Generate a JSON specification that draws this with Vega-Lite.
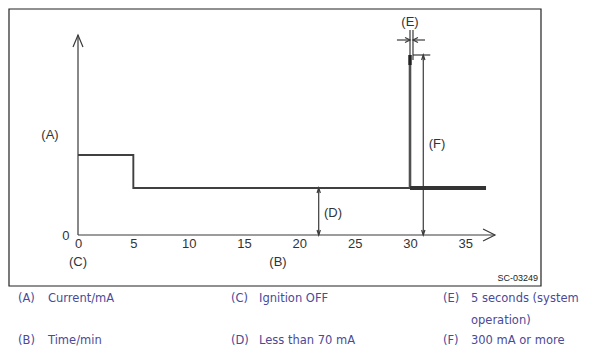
{
  "$schema": "https://vega.github.io/schema/vega-lite/v6.json",
  "width": 590,
  "height": 356,
  "autosize": "none",
  "padding": 0,
  "background": "white",
  "view": {"stroke": null},
  "config": {"font": "Liberation Sans"},
  "datasets": {
    "lines": [
      {"id": "yax", "part": "thin", "o": 1, "x": 0, "y": 0},
      {"id": "yax", "part": "thin", "o": 2, "x": 0, "y": 200},
      {"id": "yarr", "part": "thin", "o": 1, "x": -0.45, "y": 188},
      {"id": "yarr", "part": "thin", "o": 2, "x": 0, "y": 200},
      {"id": "yarr", "part": "thin", "o": 3, "x": 0.45, "y": 188},
      {"id": "xax", "part": "thin", "o": 1, "x": 0, "y": 0},
      {"id": "xax", "part": "thin", "o": 2, "x": 37.68, "y": 0},
      {"id": "xarr", "part": "thin", "o": 1, "x": 36.6, "y": 6},
      {"id": "xarr", "part": "thin", "o": 2, "x": 37.68, "y": 0},
      {"id": "xarr", "part": "thin", "o": 3, "x": 36.6, "y": -6},
      {"id": "d", "part": "thin", "o": 1, "x": 21.75, "y": 0},
      {"id": "d", "part": "thin", "o": 2, "x": 21.75, "y": 47},
      {"id": "d1", "part": "thin", "o": 1, "x": 21.6, "y": 42},
      {"id": "d1", "part": "thin", "o": 2, "x": 21.75, "y": 47},
      {"id": "d1", "part": "thin", "o": 3, "x": 21.9, "y": 42},
      {"id": "d2", "part": "thin", "o": 1, "x": 21.6, "y": 5},
      {"id": "d2", "part": "thin", "o": 2, "x": 21.75, "y": 0},
      {"id": "d2", "part": "thin", "o": 3, "x": 21.9, "y": 5},
      {"id": "f", "part": "thin", "o": 1, "x": 31.2, "y": 0},
      {"id": "f", "part": "thin", "o": 2, "x": 31.2, "y": 180},
      {"id": "f1", "part": "thin", "o": 1, "x": 31.05, "y": 175},
      {"id": "f1", "part": "thin", "o": 2, "x": 31.2, "y": 180},
      {"id": "f1", "part": "thin", "o": 3, "x": 31.35, "y": 175},
      {"id": "f2", "part": "thin", "o": 1, "x": 31.05, "y": 5},
      {"id": "f2", "part": "thin", "o": 2, "x": 31.2, "y": 0},
      {"id": "f2", "part": "thin", "o": 3, "x": 31.35, "y": 5},
      {"id": "ftick", "part": "thin", "o": 1, "x": 30.27, "y": 180},
      {"id": "ftick", "part": "thin", "o": 2, "x": 31.83, "y": 180},
      {"id": "e0", "part": "thin", "o": 1, "x": 30, "y": 180},
      {"id": "e0", "part": "thin", "o": 2, "x": 30, "y": 205},
      {"id": "e1", "part": "thin", "o": 1, "x": 30.27, "y": 175},
      {"id": "e1", "part": "thin", "o": 2, "x": 30.27, "y": 205},
      {"id": "ea", "part": "thin", "o": 1, "x": 28.82, "y": 195},
      {"id": "ea", "part": "thin", "o": 2, "x": 30, "y": 195},
      {"id": "eah", "part": "thin", "o": 1, "x": 29.55, "y": 197.5},
      {"id": "eah", "part": "thin", "o": 2, "x": 30, "y": 195},
      {"id": "eah", "part": "thin", "o": 3, "x": 29.55, "y": 192.5},
      {"id": "eb", "part": "thin", "o": 1, "x": 31.36, "y": 195},
      {"id": "eb", "part": "thin", "o": 2, "x": 30.27, "y": 195},
      {"id": "ebh", "part": "thin", "o": 1, "x": 30.72, "y": 197.5},
      {"id": "ebh", "part": "thin", "o": 2, "x": 30.27, "y": 195},
      {"id": "ebh", "part": "thin", "o": 3, "x": 30.72, "y": 192.5},
      {"id": "trace", "part": "trace", "o": 1, "x": 0, "y": 80},
      {"id": "trace", "part": "trace", "o": 2, "x": 5, "y": 80},
      {"id": "trace", "part": "trace", "o": 3, "x": 5, "y": 47},
      {"id": "trace", "part": "trace", "o": 4, "x": 30, "y": 47},
      {"id": "spike", "part": "spike", "o": 1, "x": 30, "y": 47},
      {"id": "spike", "part": "spike", "o": 2, "x": 30, "y": 180},
      {"id": "spiketop", "part": "spiketop", "o": 1, "x": 30, "y": 170},
      {"id": "spiketop", "part": "spiketop", "o": 2, "x": 30, "y": 180},
      {"id": "tail", "part": "tail", "o": 1, "x": 30, "y": 47},
      {"id": "tail", "part": "tail", "o": 2, "x": 36.87, "y": 47}
    ],
    "labels": [
      {"t": "(A)", "x": -2.53, "y": 100},
      {"t": "(C)", "x": 0, "y": -27},
      {"t": "(B)", "x": 18.07, "y": -27},
      {"t": "(D)", "x": 23.04, "y": 22},
      {"t": "(F)", "x": 32.44, "y": 91},
      {"t": "(E)", "x": 30, "y": 213}
    ],
    "legend": [
      {"t": "(A)", "x": -5.42, "y": -64},
      {"t": "Current/mA", "x": -2.71, "y": -64},
      {"t": "(C)", "x": 13.825, "y": -64},
      {"t": "Ignition OFF", "x": 16.355, "y": -64},
      {"t": "(E)", "x": 32.98, "y": -64},
      {"t": "5 seconds (system", "x": 35.51, "y": -64},
      {"t": "operation)", "x": 35.51, "y": -86},
      {"t": "(B)", "x": -5.42, "y": -106},
      {"t": "Time/min", "x": -2.71, "y": -106},
      {"t": "(D)", "x": 13.825, "y": -106},
      {"t": "Less than 70 mA", "x": 16.355, "y": -106},
      {"t": "(F)", "x": 32.98, "y": -106},
      {"t": "300 mA or more", "x": 35.51, "y": -106}
    ],
    "frame": [
      {"x": -6.235, "x2": 41.837, "y": 226, "y2": -51}
    ],
    "code": [
      {"t": "SC-03249", "x": 41.57, "y": -43}
    ]
  },
  "layer": [
    {
      "data": {"name": "frame"},
      "mark": {"type": "rect", "fill": null, "stroke": "#222", "strokeWidth": 1.2},
      "encoding": {
        "x": {"field": "x", "type": "quantitative", "scale": {"domain": [-7.048, 46.265], "nice": false, "zero": false},
              "axis": {"orient": "bottom", "offset": -121, "values": [0, 5, 10, 15, 20, 25, 30, 35], "domain": false, "ticks": false, "grid": false, "labelFont": "Liberation Sans", "labelFontSize": 13, "labelColor": "#333", "labelPadding": 2, "title": null, "labelFlush": false, "labelOverlap": false}},
        "x2": {"field": "x2"},
        "y": {"field": "y", "type": "quantitative", "scale": {"domain": [-121, 235], "nice": false, "zero": false},
              "axis": {"orient": "left", "offset": -78, "values": [0], "domain": false, "ticks": false, "grid": false, "labelFont": "Liberation Sans", "labelFontSize": 13, "labelColor": "#333", "labelPadding": 9, "title": null}},
        "y2": {"field": "y2"}
      }
    },
    {
      "data": {"name": "lines"},
      "mark": {"type": "line", "strokeCap": "butt", "strokeJoin": "miter"},
      "encoding": {
        "x": {"field": "x", "type": "quantitative"},
        "y": {"field": "y", "type": "quantitative"},
        "detail": {"field": "id"},
        "order": {"field": "o", "type": "quantitative"},
        "color": {"field": "part", "type": "nominal", "legend": null,
                  "scale": {"domain": ["thin", "trace", "spike", "spiketop", "tail"], "range": ["#3a3a3a", "#404040", "#505050", "#222222", "#333333"]}},
        "strokeWidth": {"field": "part", "type": "nominal", "legend": null,
                  "scale": {"domain": ["thin", "trace", "spike", "spiketop", "tail"], "range": [1.2, 4, 3, 4, 5]}}
      }
    },
    {
      "data": {"name": "labels"},
      "mark": {"type": "text", "font": "Liberation Sans", "fontSize": 13, "color": "#333", "align": "center", "baseline": "middle"},
      "encoding": {
        "x": {"field": "x", "type": "quantitative"},
        "y": {"field": "y", "type": "quantitative"},
        "text": {"field": "t"}
      }
    },
    {
      "data": {"name": "code"},
      "mark": {"type": "text", "font": "Liberation Sans", "fontSize": 9, "color": "#222", "align": "right", "baseline": "middle"},
      "encoding": {
        "x": {"field": "x", "type": "quantitative"},
        "y": {"field": "y", "type": "quantitative"},
        "text": {"field": "t"}
      }
    },
    {
      "data": {"name": "legend"},
      "mark": {"type": "text", "font": "DejaVu Sans", "fontSize": 11.5, "color": "#4a4a98", "align": "left", "baseline": "middle"},
      "encoding": {
        "x": {"field": "x", "type": "quantitative"},
        "y": {"field": "y", "type": "quantitative"},
        "text": {"field": "t"}
      }
    }
  ]
}
